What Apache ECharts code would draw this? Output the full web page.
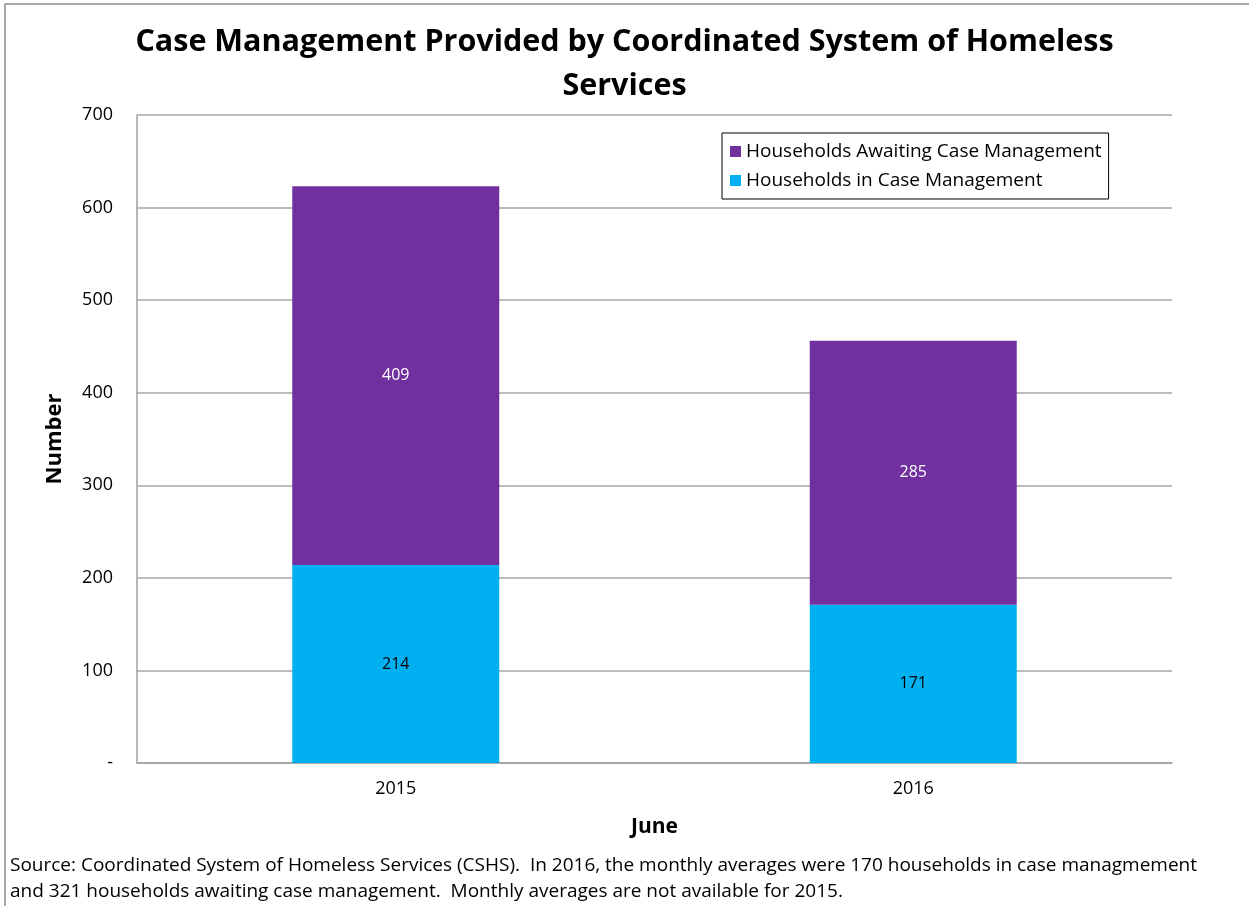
<!DOCTYPE html>
<html>
<head>
<meta charset="utf-8">
<script src="https://cdn.jsdelivr.net/npm/echarts@6/dist/echarts.min.js"></script>
<style>
  html, body { margin: 0; padding: 0; background: #fff; }
  #chart { width: 1249px; height: 906px; }
</style>
</head>
<body>
<div id="chart"></div>
<script>
// data
const years = ['2015', '2016'];
const inCaseMgmt = [214, 171];
const awaitingCaseMgmt = [409, 285];
const yTicks = [0, 100, 200, 300, 400, 500, 600, 700];

const font = '"Open Sans", Lato, sans-serif';
const purple = '#7030A0';
const cyan = '#00B0F0';

const chart = echarts.init(document.getElementById('chart'));

const option = {
  backgroundColor: '#fff',
  animation: false,
  title: {
    text: 'Case Management Provided by Coordinated System of Homeless\nServices',
    left: 'center',
    top: 15,
    textStyle: {
      fontFamily: font,
      fontSize: 30.5,
      fontWeight: 'bold',
      color: '#000',
      lineHeight: 44
    }
  },
  legend: {
    orient: 'vertical',
    left: 722,
    top: 133,
    data: ['Households Awaiting Case Management', 'Households in Case Management'],
    icon: 'rect',
    itemWidth: 11,
    itemHeight: 11,
    itemGap: 10,
    padding: [9, 7, 9, 8],
    borderColor: '#000',
    borderWidth: 1,
    textStyle: { fontFamily: font, fontSize: 19, color: '#000' }
  },
  grid: {
    left: 137,
    right: 77,
    top: 115,
    bottom: 143,
    containLabel: false
  },
  xAxis: {
    type: 'category',
    data: years,
    name: 'June',
    nameLocation: 'middle',
    nameGap: 54,
    nameTextStyle: { fontFamily: font, fontSize: 21, fontWeight: 'bold', color: '#000' },
    axisLine: { show: true, lineStyle: { color: '#a0a0a0', width: 1.5 } },
    axisTick: { show: false },
    axisLabel: { fontFamily: font, fontSize: 18, color: '#000', margin: 17 }
  },
  yAxis: {
    type: 'value',
    min: yTicks[0],
    max: yTicks[yTicks.length - 1],
    interval: 100,
    name: 'Number',
    nameLocation: 'middle',
    nameGap: 71,
    nameRotate: 90,
    nameTextStyle: { fontFamily: font, fontSize: 22, fontWeight: 'bold', color: '#000' },
    axisLine: { show: true, lineStyle: { color: '#a0a0a0', width: 1.5 } },
    axisTick: { show: false },
    splitLine: { lineStyle: { color: '#a6a6a6', width: 1.5 } },
    axisLabel: {
      fontFamily: font,
      fontSize: 18,
      color: '#000',
      margin: 24,
      formatter: v => (v === 0 ? '-' : String(v))
    }
  },
  series: [
    {
      name: 'Households in Case Management',
      type: 'bar',
      stack: 'total',
      barWidth: '40%',
      data: inCaseMgmt,
      itemStyle: { color: cyan },
      label: { show: true, position: 'inside', fontFamily: font, fontSize: 16, color: '#000' }
    },
    {
      name: 'Households Awaiting Case Management',
      type: 'bar',
      stack: 'total',
      barWidth: '40%',
      data: awaitingCaseMgmt,
      itemStyle: { color: purple },
      label: { show: true, position: 'inside', fontFamily: font, fontSize: 16, color: '#fff' }
    }
  ],
  graphic: [
    {
      type: 'rect',
      shape: { x: 5, y: 4, width: 1400, height: 1000 },
      style: { fill: 'none', stroke: '#8c8c8c', lineWidth: 1.5 },
      silent: true
    },
    {
      type: 'text',
      left: 10,
      top: 853,
      style: {
        text: 'Source: Coordinated System of Homeless Services (CSHS).  In 2016, the monthly averages were 170 households in case managmement\nand 321 households awaiting case management.  Monthly averages are not available for 2015.',
        fontFamily: font,
        fontSize: 19,
        lineHeight: 26,
        fill: '#000'
      }
    }
  ]
};

chart.setOption(option);
window.addEventListener('resize', () => chart.resize());
</script>
</body>
</html>
